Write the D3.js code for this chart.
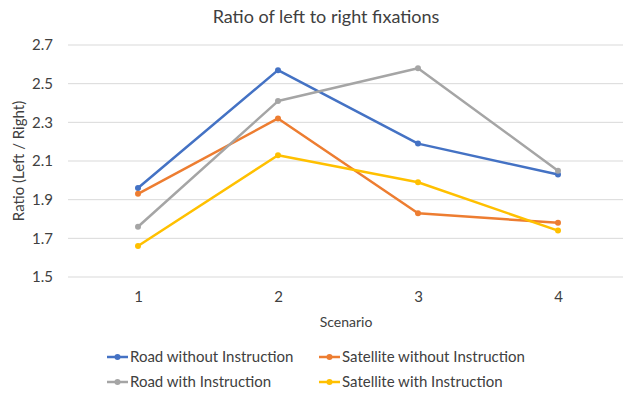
<!DOCTYPE html>
<html>
<head>
<meta charset="utf-8">
<script src="https://cdn.jsdelivr.net/npm/d3@7"></script>
<style>
  html, body { margin: 0; padding: 0; background: #fff; }
  svg { display: block; font-family: Lato, "Open Sans", sans-serif; }
</style>
</head>
<body>
<svg id="chart" width="623" height="394"></svg>
<script>
const scenarios = [1, 2, 3, 4];
const yTicks = [1.5, 1.7, 1.9, 2.1, 2.3, 2.5, 2.7];
const roadWithout = [1.96, 2.57, 2.19, 2.03];
const satelliteWithout = [1.93, 2.32, 1.83, 1.78];
const roadWith = [1.76, 2.41, 2.58, 2.05];
const satelliteWith = [1.66, 2.13, 1.99, 1.74];
const seriesNames = ["Road without Instruction", "Satellite without Instruction", "Road with Instruction", "Satellite with Instruction"];
const seriesColors = ["#4472C4", "#ED7D31", "#A5A5A5", "#FFC000"];
const seriesValues = [roadWithout, satelliteWithout, roadWith, satelliteWith];

const series = seriesNames.map((name, i) => ({
  name, color: seriesColors[i],
  values: scenarios.map((s, j) => ({ x: s, y: seriesValues[i][j] }))
}));

const svg = d3.select("#chart");
const textColor = "#404040";

const x = d3.scalePoint().domain(scenarios).range([68, 628]).padding(0.5);
const y = d3.scaleLinear().domain([1.5, 2.7]).range([277, 45]);

// gridlines
svg.append("g").selectAll("line").data(yTicks).join("line")
  .attr("x1", 68).attr("x2", 623)
  .attr("y1", d => y(d)).attr("y2", d => y(d))
  .attr("stroke", "#D9D9D9").attr("stroke-width", 1);

// y axis labels
const yAxis = d3.axisLeft(y).tickValues(yTicks).tickFormat(d3.format(".1f")).tickSize(0).tickPadding(0);
const yg = svg.append("g").attr("transform", "translate(53,0)").call(yAxis);
yg.select(".domain").remove();
yg.selectAll("text").attr("fill", textColor).style("font-size", "15px").style("font-family", "Lato, sans-serif");

// x axis labels
const xAxis = d3.axisBottom(x).tickSize(0).tickPadding(0);
const xg = svg.append("g").attr("transform", "translate(0,291)").call(xAxis);
xg.select(".domain").remove();
xg.selectAll("text").attr("fill", textColor).style("font-size", "15px").style("font-family", "Lato, sans-serif");

// title
svg.append("text").attr("x", 326).attr("y", 23).attr("text-anchor", "middle")
  .attr("fill", textColor).style("font-size", "18px").text("Ratio of left to right fixations");

// axis titles
svg.append("text").attr("x", 346).attr("y", 327).attr("text-anchor", "middle")
  .attr("fill", textColor).style("font-size", "14px").text("Scenario");
svg.append("text").attr("transform", "translate(24,161) rotate(-90)").attr("text-anchor", "middle")
  .attr("fill", textColor).style("font-size", "15px").text("Ratio (Left / Right)");

// lines
const line = d3.line().x(d => x(d.x)).y(d => y(d.y));
const sg = svg.append("g").selectAll("g").data(series).join("g");
sg.append("path").attr("d", d => line(d.values)).attr("fill", "none")
  .attr("stroke", d => d.color).attr("stroke-width", 2.5).attr("stroke-linejoin", "round");
sg.selectAll("circle").data(d => d.values.map(v => ({ ...v, color: d.color }))).join("circle")
  .attr("cx", d => x(d.x)).attr("cy", d => y(d.y)).attr("r", 3).attr("fill", d => d.color);

// legend
const legPos = [[107, 357], [319, 357], [107, 382], [319, 382]];
const lg = svg.append("g").selectAll("g").data(series).join("g")
  .attr("transform", (d, i) => `translate(${legPos[i][0]},${legPos[i][1]})`);
lg.append("line").attr("x1", 0).attr("x2", 21).attr("y1", 0).attr("y2", 0)
  .attr("stroke", d => d.color).attr("stroke-width", 2.5);
lg.append("circle").attr("cx", 10.5).attr("cy", 0).attr("r", 3).attr("fill", d => d.color);
lg.append("text").attr("x", 23).attr("y", 0).attr("dy", "0.35em")
  .attr("fill", textColor).style("font-size", "15px").text(d => d.name);
</script>
</body>
</html>
